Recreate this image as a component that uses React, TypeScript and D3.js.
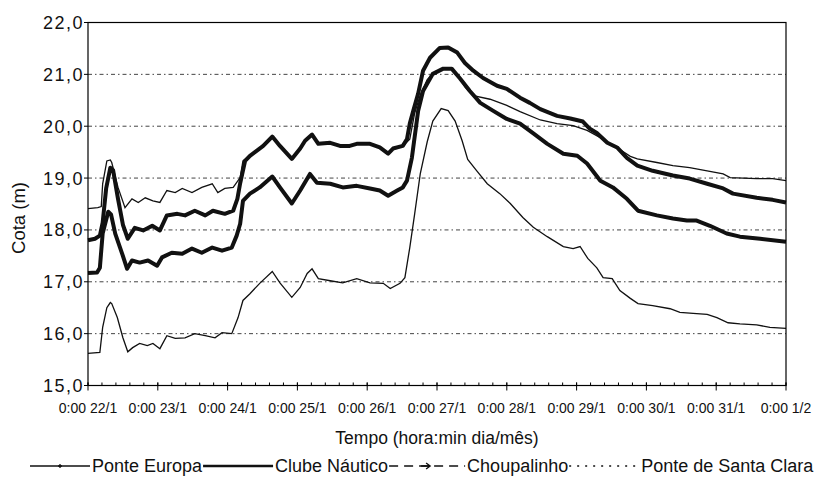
import * as d3 from "d3";

// readings: [day since 22/1 0:00, level in m]
const ponteEuropa: [number, number][] = [
  [0, 18.41], [0.14, 18.43], [0.19, 18.45], [0.21, 18.89], [0.27, 19.33], [0.32, 19.35],
  [0.34, 19.3], [0.43, 18.82], [0.53, 18.43], [0.63, 18.6], [0.72, 18.53], [0.82, 18.62],
  [0.93, 18.56], [1.03, 18.53], [1.13, 18.76], [1.25, 18.72], [1.35, 18.8], [1.49, 18.72],
  [1.63, 18.82], [1.78, 18.89], [1.86, 18.72], [1.96, 18.8], [2.08, 18.82], [2.18, 19.01],
  [2.22, 19.33], [2.32, 19.43], [2.42, 19.53], [2.51, 19.62], [2.64, 19.78], [2.75, 19.62],
  [2.92, 19.37], [3.04, 19.57], [3.11, 19.72], [3.21, 19.82], [3.3, 19.66], [3.47, 19.68],
  [3.61, 19.62], [3.75, 19.62], [3.85, 19.66], [4.04, 19.66], [4.18, 19.59], [4.3, 19.47],
  [4.37, 19.57], [4.51, 19.62], [4.61, 19.75], [4.68, 20.25], [4.76, 20.6], [4.86, 20.9],
  [4.97, 21.05], [5.09, 21.11], [5.21, 21.1], [5.33, 20.92], [5.4, 20.76], [5.52, 20.59],
  [5.76, 20.52], [6.0, 20.4], [6.19, 20.28], [6.48, 20.12], [6.72, 20.05], [6.95, 20.01],
  [7.15, 19.92], [7.34, 19.78], [7.48, 19.66], [7.62, 19.55], [7.77, 19.42], [7.87, 19.37],
  [8.15, 19.3], [8.38, 19.24], [8.62, 19.2], [8.87, 19.14], [9.1, 19.08], [9.2, 19.01],
  [9.58, 18.99], [9.81, 18.99], [10, 18.95],
];

const clubeNautico: [number, number][] = [
  [0, 17.8], [0.1, 17.83], [0.17, 17.89], [0.21, 18.14], [0.26, 18.8], [0.32, 19.2],
  [0.36, 19.15], [0.43, 18.6], [0.5, 18.1], [0.57, 17.83], [0.67, 18.04], [0.79, 17.99],
  [0.92, 18.08], [1.03, 17.99], [1.13, 18.28], [1.28, 18.31], [1.39, 18.28], [1.53, 18.37],
  [1.68, 18.28], [1.79, 18.37], [1.96, 18.31], [2.08, 18.37], [2.14, 18.6], [2.18, 18.9],
  [2.25, 19.33], [2.32, 19.43], [2.42, 19.53], [2.51, 19.62], [2.64, 19.8], [2.75, 19.62],
  [2.92, 19.37], [3.04, 19.57], [3.11, 19.72], [3.21, 19.84], [3.3, 19.66], [3.47, 19.68],
  [3.61, 19.62], [3.75, 19.62], [3.85, 19.66], [4.04, 19.66], [4.18, 19.59], [4.3, 19.47],
  [4.37, 19.57], [4.51, 19.62], [4.57, 19.75], [4.61, 20.05], [4.66, 20.3], [4.73, 20.63],
  [4.8, 21.07], [4.9, 21.32], [5.04, 21.51], [5.16, 21.52], [5.29, 21.42], [5.4, 21.22],
  [5.52, 21.07], [5.66, 20.93], [5.86, 20.78], [6.0, 20.72], [6.19, 20.55], [6.33, 20.45],
  [6.48, 20.33], [6.72, 20.2], [6.91, 20.15], [7.09, 20.09], [7.19, 19.95], [7.29, 19.87],
  [7.44, 19.68], [7.58, 19.59], [7.72, 19.39], [7.87, 19.24], [8.09, 19.14], [8.38, 19.05],
  [8.62, 18.99], [8.87, 18.89], [9.1, 18.8], [9.24, 18.7], [9.58, 18.62], [9.81, 18.58],
  [10, 18.53],
];

const choupalinho: [number, number][] = [
  [0, 17.17], [0.13, 17.18], [0.17, 17.27], [0.21, 17.93], [0.29, 18.35], [0.33, 18.3],
  [0.39, 17.93], [0.49, 17.54], [0.56, 17.25], [0.63, 17.41], [0.74, 17.37], [0.86, 17.41],
  [0.99, 17.31], [1.06, 17.47], [1.2, 17.56], [1.35, 17.54], [1.49, 17.64], [1.63, 17.56],
  [1.78, 17.66], [1.92, 17.6], [2.06, 17.66], [2.13, 17.89], [2.18, 18.12], [2.22, 18.56],
  [2.32, 18.7], [2.46, 18.82], [2.64, 19.03], [2.75, 18.82], [2.92, 18.51], [3.04, 18.76],
  [3.18, 19.08], [3.28, 18.91], [3.47, 18.89], [3.65, 18.82], [3.85, 18.85], [4.04, 18.8],
  [4.18, 18.76], [4.3, 18.66], [4.43, 18.76], [4.51, 18.82], [4.57, 18.95], [4.64, 19.39],
  [4.73, 20.3], [4.8, 20.68], [4.94, 21.01], [5.09, 21.11], [5.21, 21.11], [5.33, 20.92],
  [5.47, 20.68], [5.62, 20.45], [5.8, 20.3], [6.0, 20.14], [6.19, 20.05], [6.38, 19.86],
  [6.58, 19.66], [6.81, 19.47], [7.01, 19.43], [7.15, 19.28], [7.34, 18.95], [7.52, 18.82],
  [7.72, 18.6], [7.88, 18.37], [8.15, 18.28], [8.38, 18.22], [8.58, 18.18], [8.72, 18.18],
  [8.91, 18.08], [9.15, 17.93], [9.34, 17.87], [9.63, 17.83], [10, 17.77],
];

const santaClara: [number, number][] = [
  [0, 15.62], [0.17, 15.64], [0.21, 16.12], [0.27, 16.5], [0.32, 16.6], [0.34, 16.58],
  [0.42, 16.31], [0.5, 15.92], [0.57, 15.65], [0.64, 15.73], [0.74, 15.81], [0.85, 15.77],
  [0.93, 15.81], [1.03, 15.71], [1.13, 15.96], [1.25, 15.91], [1.39, 15.92], [1.53, 16.0],
  [1.68, 15.96], [1.82, 15.92], [1.92, 16.02], [2.06, 16.0], [2.15, 16.31], [2.22, 16.64],
  [2.32, 16.77], [2.46, 16.97], [2.64, 17.2], [2.75, 16.98], [2.92, 16.7], [3.04, 16.89],
  [3.14, 17.16], [3.21, 17.25], [3.3, 17.06], [3.47, 17.02], [3.65, 16.98], [3.85, 17.06],
  [4.04, 16.98], [4.23, 16.97], [4.33, 16.87], [4.47, 16.97], [4.54, 17.08], [4.61, 17.66],
  [4.68, 18.31], [4.76, 19.08], [4.86, 19.7], [4.94, 20.1], [5.06, 20.34], [5.16, 20.3],
  [5.26, 20.1], [5.36, 19.72], [5.44, 19.36], [5.57, 19.14], [5.72, 18.89], [5.9, 18.7],
  [6.05, 18.51], [6.23, 18.24], [6.38, 18.05], [6.58, 17.87], [6.81, 17.68], [6.95, 17.64],
  [7.05, 17.68], [7.16, 17.45], [7.29, 17.27], [7.38, 17.08], [7.51, 17.06], [7.62, 16.83],
  [7.77, 16.68], [7.88, 16.58], [8.09, 16.54], [8.34, 16.48], [8.48, 16.41], [8.67, 16.39],
  [8.87, 16.37], [9.01, 16.31], [9.17, 16.21], [9.34, 16.19], [9.58, 16.17], [9.77, 16.12],
  [10, 16.1],
];

const xTickLabels = [
  "0:00 22/1", "0:00 23/1", "0:00 24/1", "0:00 25/1", "0:00 26/1", "0:00 27/1",
  "0:00 28/1", "0:00 29/1", "0:00 30/1", "0:00 31/1", "0:00 1/2",
];
const yTicks = [15, 16, 17, 18, 19, 20, 21, 22];
const legendNames = ["Ponte Europa", "Clube Náutico", "Choupalinho", "Ponte de Santa Clara"];

const width = 815,
  height = 477,
  left = 88,
  right = 786,
  top = 22.5,
  bottom = 385.5;

const font = "'Liberation Sans', Arial, sans-serif";

// rough Arial advance widths (em) for laying out the legend row
const glyphW: Record<string, number> = {
  P: 0.667, C: 0.722, E: 0.667, N: 0.722, S: 0.667, " ": 0.278,
  o: 0.556, n: 0.556, t: 0.278, e: 0.556, u: 0.556, r: 0.333, p: 0.556, a: 0.556,
  l: 0.222, b: 0.556, "á": 0.556, i: 0.222, c: 0.5, h: 0.556, d: 0.556,
};
const textWidth = (s: string, size: number) =>
  Array.from(s).reduce((acc, ch) => acc + (glyphW[ch] ?? 0.556), 0) * size;

export default function App() {
  const xScale = d3.scaleLinear().domain([0, 10]).range([left, right]);
  const yScale = d3.scaleLinear().domain([15, 22]).range([bottom, top]);
  const line = d3
    .line<[number, number]>()
    .x((d) => xScale(d[0]))
    .y((d) => yScale(d[1]));

  const minorTicks = d3.range(0, 10.001, 0.2);
  const majorTicks = d3.range(0, 11);

  const legendSize = 18;
  const sampleLen = [60, 70, 76, 70];
  let cursor = 30;
  const legendItems = legendNames.map((name, i) => {
    const x0 = cursor;
    const x1 = x0 + sampleLen[i];
    const tx = x1 + 2;
    cursor = tx + textWidth(name, legendSize) + 1;
    return { name, x0, x1, tx };
  });

  return (
    <svg
      width={width}
      height={height}
      style={{ position: "absolute", left: 0, top: 0, background: "#fff" }}
      fontFamily={font}
    >
      {/* grid */}
      {yTicks.slice(1, -1).map((v) => (
        <line
          key={v}
          x1={left}
          x2={right}
          y1={yScale(v)}
          y2={yScale(v)}
          stroke="#444"
          strokeWidth={1}
          strokeDasharray="4 3 1.5 3"
        />
      ))}

      {/* series */}
      <path d={line(santaClara) ?? ""} fill="none" stroke="#111" strokeWidth={1.3} />
      <path d={line(ponteEuropa) ?? ""} fill="none" stroke="#111" strokeWidth={1.3} />
      <path d={line(choupalinho) ?? ""} fill="none" stroke="#111" strokeWidth={4} strokeLinejoin="round" />
      <path d={line(clubeNautico) ?? ""} fill="none" stroke="#111" strokeWidth={4} strokeLinejoin="round" />

      {/* frame */}
      <rect x={left} y={top} width={right - left} height={bottom - top} fill="none" stroke="#000" strokeWidth={1.2} />

      {/* y axis */}
      {yTicks.map((v) => (
        <g key={v}>
          <line x1={left - 4} x2={left} y1={yScale(v)} y2={yScale(v)} stroke="#000" />
          <text
            x={left - 4}
            y={yScale(v)}
            dy="0.36em"
            textAnchor="end"
            fontSize={18}
            letterSpacing={1.5}
            fill="#111"
          >
            {d3.format(".1f")(v).replace(".", ",")}
          </text>
        </g>
      ))}
      <text
        transform={`translate(25 ${(top + bottom) / 2 + 14}) rotate(-90)`}
        textAnchor="middle"
        fontSize={18.5}
        fill="#111"
      >
        Cota (m)
      </text>

      {/* x axis */}
      {minorTicks.map((t) => (
        <line key={t} x1={xScale(t)} x2={xScale(t)} y1={bottom - 3} y2={bottom} stroke="#000" />
      ))}
      {majorTicks.map((t, i) => (
        <g key={t}>
          <line x1={xScale(t)} x2={xScale(t)} y1={bottom - 3} y2={bottom + 5} stroke="#000" />
          <text x={xScale(t)} y={413} textAnchor="middle" fontSize={14} fill="#111">
            {xTickLabels[i]}
          </text>
        </g>
      ))}
      <text x={(left + right) / 2} y={444} textAnchor="middle" fontSize={17.5} fill="#111">
        Tempo (hora:min dia/mês)
      </text>

      {/* legend */}
      <g fontSize={legendSize} fill="#111">
        {legendItems.map(({ name, x0, x1, tx }, i) => {
          const y = 466;
          const mid = (x0 + x1) / 2;
          return (
            <g key={name}>
              {i === 0 && (
                <>
                  <line x1={x0} x2={x1} y1={y} y2={y} stroke="#111" strokeWidth={1.3} />
                  <path d={`M${mid - 2},${y} h4 M${mid},${y - 2} v4`} stroke="#111" strokeWidth={1.3} />
                </>
              )}
              {i === 1 && <line x1={x0} x2={x1} y1={y} y2={y} stroke="#111" strokeWidth={2.4} />}
              {i === 2 && (
                <>
                  <line x1={x0} x2={x1} y1={y} y2={y} stroke="#111" strokeWidth={1.6} strokeDasharray="9 6" />
                  <path d={`M${mid - 6},${y} h8 M${mid - 1},${y - 3} l4,3 l-4,3`} fill="none" stroke="#111" strokeWidth={1.4} />
                </>
              )}
              {i === 3 && (
                <line x1={x0} x2={x1} y1={y} y2={y} stroke="#111" strokeWidth={1.6} strokeDasharray="2 6" />
              )}
              <text x={tx} y={y + 6}>
                {name}
              </text>
            </g>
          );
        })}
      </g>
    </svg>
  );
}
